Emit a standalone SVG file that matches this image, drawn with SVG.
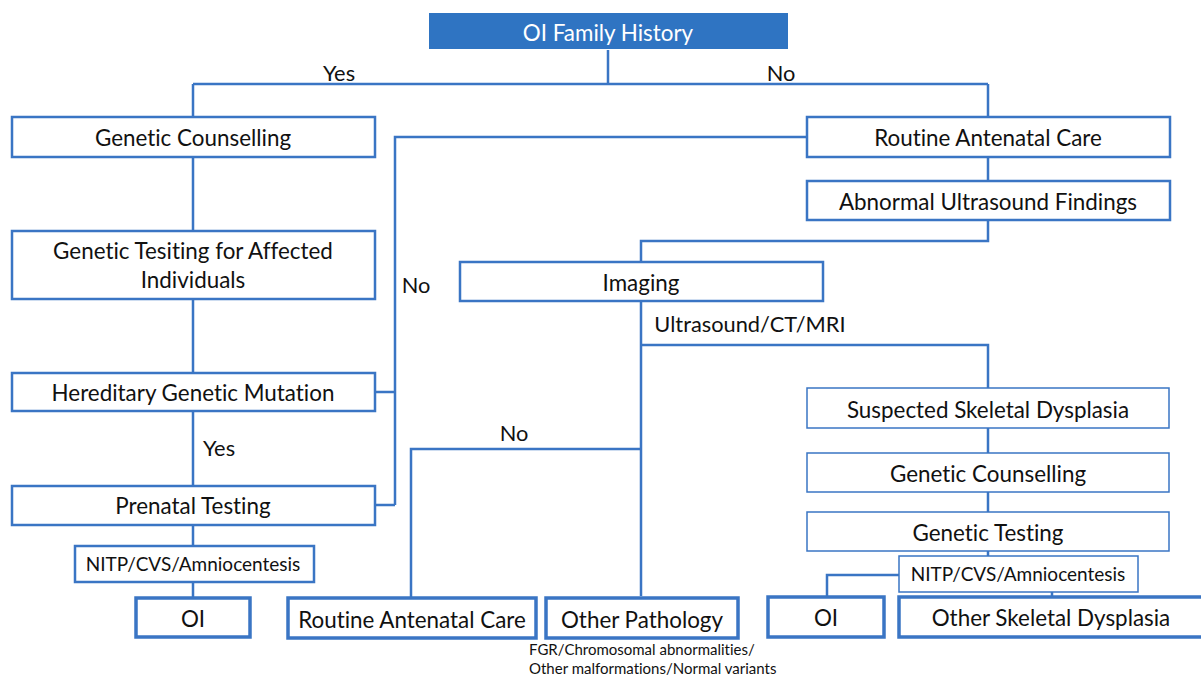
<svg xmlns="http://www.w3.org/2000/svg" width="1201" height="678" viewBox="0 0 1201 678">
<style>
.b{fill:#fff;stroke:#3a75c4;stroke-width:2.5}
.t{fill:#fff;stroke:#3a75c4;stroke-width:1.5}
.k{fill:#fff;stroke:#3a75c4;stroke-width:3.5}
.c{fill:none;stroke:#3a75c4;stroke-width:2.5}
text{font-family:Lato,"Liberation Sans",sans-serif;font-size:22.4px;fill:#111;text-anchor:middle;font-variant-ligatures:none}
.s{font-size:19px}
.x{font-size:15px;text-anchor:start}
.l{font-size:21.8px}
</style>
<rect width="1201" height="678" fill="#fff"/>
<g id="connectors">
<path class="c" d="M608 50V84M193 84H988M193 84V117M988 84V117"/>
<path class="c" d="M193 157V231M193 299V373M193 411V486M193 525V546M193 582V598"/>
<path class="c" d="M807 137H395V505M375 392H395M375 505H395"/>
<path class="c" d="M988 157V181M988 220V241H641V262"/>
<path class="c" d="M641 301V596M641 345H988V388M641 449H411V598"/>
<path class="c" d="M988 428V453M988 492V512M988 551V556M899 575H827V597M1052 592V597"/>
<text class="l" x="339" y="81">Yes</text>
<text class="l" x="781" y="81">No</text>
<text class="l" x="416" y="293">No</text>
<text class="l" x="219" y="456">Yes</text>
<text class="l" x="514" y="441">No</text>
<text class="l" x="750" y="332">Ultrasound/CT/MRI</text>
</g>
<g id="n-family"><rect x="429" y="13" width="359" height="36" fill="#2f74c2"/><text x="608" y="41" style="fill:#fff">OI Family History</text></g>
<g id="n-gc1"><rect class="b" x="12" y="117" width="363" height="40"/><text x="193" y="146">Genetic Counselling</text></g>
<g id="n-gt1"><rect class="b" x="12" y="231" width="363" height="68"/><text x="193" y="259">Genetic Tesiting for Affected</text><text x="193" y="288">Individuals</text></g>
<g id="n-hgm"><rect class="b" x="12" y="373" width="363" height="38"/><text x="193" y="401">Hereditary Genetic Mutation</text></g>
<g id="n-pt"><rect class="b" x="12" y="486" width="363" height="39"/><text x="193" y="514">Prenatal Testing</text></g>
<g id="n-nitp1"><rect class="b" x="75" y="546" width="239" height="36"/><text class="s" x="193" y="571">NITP/CVS/Amniocentesis</text></g>
<g id="n-oi1"><rect class="k" x="136" y="598" width="114" height="39"/><text x="193" y="627">OI</text></g>
<g id="n-rac1"><rect class="b" x="807" y="117" width="363" height="40"/><text x="988" y="146">Routine Antenatal Care</text></g>
<g id="n-auf"><rect class="b" x="807" y="181" width="363" height="39"/><text x="988" y="210">Abnormal Ultrasound Findings</text></g>
<g id="n-img"><rect class="b" x="460" y="262" width="363" height="39"/><text x="641" y="291">Imaging</text></g>
<g id="n-rac2"><rect class="k" x="288" y="598" width="248" height="40"/><text x="412" y="628">Routine Antenatal Care</text></g>
<g id="n-op"><rect class="k" x="546" y="598" width="192" height="40"/><text x="642" y="628">Other Pathology</text><text class="x" x="529" y="655">FGR/Chromosomal abnormalities/</text><text class="x" x="529" y="674">Other malformations/Normal variants</text></g>
<g id="n-ssd"><rect class="t" x="807" y="388" width="362" height="40"/><text x="988" y="418">Suspected Skeletal Dysplasia</text></g>
<g id="n-gc2"><rect class="t" x="807" y="453" width="362" height="39"/><text x="988" y="482">Genetic Counselling</text></g>
<g id="n-gt2"><rect class="t" x="807" y="512" width="362" height="39"/><text x="988" y="541">Genetic Testing</text></g>
<g id="n-nitp2"><rect class="t" x="899" y="556" width="239" height="36"/><text class="s" x="1018" y="581">NITP/CVS/Amniocentesis</text></g>
<g id="n-oi2"><rect class="k" x="768" y="597" width="116" height="40"/><text x="826" y="626">OI</text></g>
<g id="n-osd"><rect class="k" x="899" y="597" width="310" height="40"/><text x="1051" y="626">Other Skeletal Dysplasia</text></g>
</svg>
